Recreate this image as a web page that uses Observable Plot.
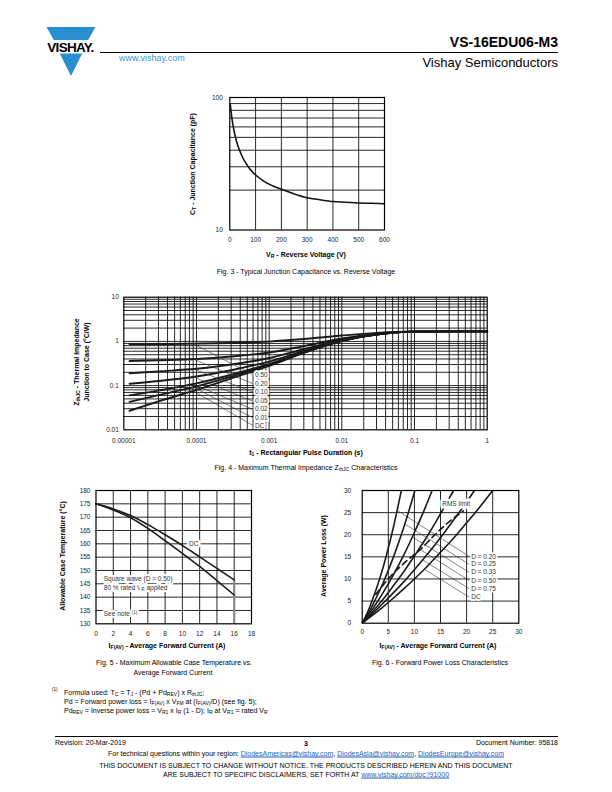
<!DOCTYPE html>
<html><head><meta charset="utf-8">
<script src="https://cdn.jsdelivr.net/npm/d3@7"></script>
<script src="https://cdn.jsdelivr.net/npm/@observablehq/plot@0.6"></script>
<style>
body{margin:0;background:#fff;}
#page{position:relative;width:612px;height:792px;font-family:"Liberation Sans",Arial,Helvetica,sans-serif;color:#000;overflow:hidden;background:#fff;}
.t{position:absolute;white-space:nowrap;line-height:1;}
sub{font-size:72%;vertical-align:-0.3em;line-height:0;}
sup{font-size:65%;vertical-align:0.45em;line-height:0;}
a{color:#1f5fbf;text-decoration:underline;}
</style></head><body><div id="page"></div>
<script>
// ================= DATA =================
// Fig. 3 - junction capacitance vs reverse voltage
const capVoltage = [2,5,10,20,30,45,60,80,100,130,160,200,250,300,350,400,450,500,550,600];
const capPf      = [88,78,66,52,44,37,32.5,28.5,26,23.5,21.8,20.3,18.7,17.5,16.9,16.4,16.2,16.0,15.9,15.8];
const capXTicks = [0,100,200,300,400,500,600];
const capYTicks = [10,100];
const capXGrid = [100,200,300,400,500];
const capYGrid = [20,30,40,50,60,70,80,90];

// Fig. 4 - thermal impedance
const pulseT    = [1.2e-5,3e-5,1e-4,3e-4,1e-3,3e-3,1e-2,3e-2,1e-1,1];
const zth050    = [0.86,0.87,0.89,0.92,0.99,1.13,1.36,1.56,1.68,1.70];
const zth020    = [0.36,0.375,0.40,0.455,0.56,0.78,1.16,1.48,1.67,1.70];
const zth010    = [0.19,0.21,0.24,0.30,0.42,0.665,1.09,1.45,1.66,1.70];
const zth005    = [0.11,0.127,0.161,0.223,0.35,0.61,1.05,1.43,1.66,1.70];
const zth002    = [0.06,0.077,0.112,0.176,0.31,0.57,1.03,1.43,1.66,1.70];
const zth001    = [0.043,0.061,0.096,0.16,0.294,0.56,1.03,1.42,1.66,1.70];
const zthSingle = [0.027,0.044,0.08,0.145,0.28,0.55,1.02,1.42,1.66,1.70];
const zthSeries = ["0.50","0.20","0.10","0.05","0.02","0.01","DC"];
const pulseTicks = [0.00001,0.0001,0.001,0.01,0.1,1];
const pulseTickLabels = ["0.00001","0.0001","0.001","0.01","0.1","1"];
const zthTicks = [0.01,0.1,1,10];
const zthTickLabels = ["0.01","0.1","1","10"];
const pulseDecades = [0.00001,0.0001,0.001,0.01,0.1];
const zthDecades = [0.01,0.1,1];
// leader annotations (data units)
const zthLeadT0 = 9e-5;
const zthLeadZ0 = [0.89,0.40,0.24,0.158,0.108,0.092,0.076];
const zthLabelT = 6e-4;
const zthLabelZ = [0.175,0.11,0.071,0.044,0.029,0.0187,0.0125];

// Fig. 5 - allowable case temperature
const ifAv   = [0,2,4,6,8,10,12,14,16];
const tcDC   = [175,173.1,170.6,167.2,163.4,159.4,155.1,150.8,146.5];
const tcSq50 = [175,172.7,169.8,165.8,161.2,156.4,151.5,146.2,140.8];
const tcXTicks = [0,2,4,6,8,10,12,14,16,18];
const tcYTicks = [130,135,140,145,150,155,160,165,170,175,180];

// Fig. 6 - forward power loss
const plI020 = [0,1,2,3,4,5,6,7,7.5];
const plP020 = [0,2.4,5.4,8.8,12.6,17,21.8,27.2,30];
const plI025 = [0,1,2,4,6,8,10.1];
const plP025 = [0,1.9,4.1,9.1,15.0,21.8,30];
const plI033 = [0,2,4,6,8,10,12,13.4];
const plP033 = [0,3.2,6.9,11.0,15.5,20.5,25.9,30];
const plI050 = [0,2,4,6,8,10,12,14,16,17.5];
const plP050 = [0,2.6,5.4,8.5,11.7,15.2,18.8,22.7,26.8,30];
const plI075 = [0,2,4,6,8,10,12,14,16,18,20,21.5];
const plP075 = [0,2.2,4.5,6.9,9.4,12.1,14.9,17.8,20.9,24.1,27.4,30];
const plIDC  = [0,2,4,6,8,10,12,14,16,18,20,22,25];
const plPDC  = [0,1.8,3.7,5.7,7.8,10.0,12.3,14.8,17.3,19.9,22.7,25.5,30];
const rmsI   = [2.6,5,8.7,10.9,13.5,16.3,19.4];
const rmsP   = [6.5,10,14.3,16.4,19.5,22.6,25.4];
const plSeries = ["D = 0.20","D = 0.25","D = 0.33","D = 0.50","D = 0.75","DC"];
const plTicks = [0,5,10,15,20,25,30];
const plLeadI0 = [6.7,8.2,9.6,10.9,11.6,11.9];
const plLeadP0 = [25.5,22.4,19.5,16.8,14.3,12.2];
const plLabelI = 20.5;
const plLabelP = [15.1,13.3,11.5,9.65,7.8,5.9];

// ================= HELPERS =================
const FONT = '"Liberation Sans", Arial, Helvetica, sans-serif';
const page = document.getElementById("page");
const SVGNS = "http://www.w3.org/2000/svg";

function txt(html, x, y, o = {}) {
  const d = document.createElement("div");
  d.className = "t";
  d.innerHTML = html;
  d.style.left = x + "px";
  d.style.top = y + "px";
  d.style.fontSize = (o.size || 7) + "px";
  if (o.bold) d.style.fontWeight = "bold";
  if (o.color) d.style.color = o.color;
  const a = o.anchor || "c";
  const tx = a === "l" ? "0" : a === "r" ? "-100%" : "-50%";
  d.style.transform = `translate(${tx},-50%)` + (o.rotate ? " rotate(-90deg)" : "");
  page.appendChild(d);
  return d;
}
function place(node, left, top) {
  node.style.position = "absolute";
  node.style.left = left + "px";
  node.style.top = top + "px";
  page.appendChild(node);
}
function rich(svg) {
  svg.querySelectorAll("text").forEach(t => {
    const s = t.textContent;
    if (!/[_^]\{/.test(s)) return;
    while (t.firstChild) t.removeChild(t.firstChild);
    const re = /([_^])\{([^}]*)\}/g;
    let last = 0, m, shift = 0;
    const add = (str, dy, small) => {
      const ts = document.createElementNS(SVGNS, "tspan");
      ts.textContent = str;
      if (dy) ts.setAttribute("dy", dy);
      if (small) ts.setAttribute("font-size", small);
      t.appendChild(ts);
    };
    while ((m = re.exec(s))) {
      if (m.index > last) add(s.slice(last, m.index), shift ? -shift : 0);
      else if (shift) add("", -shift);
      const d = m[1] === "_" ? 1.6 : -2.4;
      add(m[2], d, "4.6px");
      shift = d;
      last = re.lastIndex;
    }
    if (last < s.length) add(s.slice(last), shift ? -shift : 0);
  });
}
const baseStyle = {fontFamily: FONT, fontSize: "6.5px", color: "#222", background: "transparent", overflow: "visible"};
const gridStyle = {stroke: "#000", strokeWidth: 0.85};
const frameMark = () => Plot.frame({stroke: "#000", strokeWidth: 1.2});
const halo = {stroke: "white", strokeWidth: 3.5, paintOrder: "stroke", strokeLinejoin: "round"};

// ================= HEADER =================
const hdr = document.createElementNS(SVGNS, "svg");
hdr.setAttribute("width", 612); hdr.setAttribute("height", 90);
hdr.innerHTML = `
  <polygon points="46.5,27 95.5,27 88.2,40 53.8,40" fill="#2a8fd0"/>
  <polygon points="59.8,53.5 82.2,53.5 71,76" fill="#2a8fd0"/>
  <text x="70.5" y="51.5" text-anchor="middle" font-family='"Liberation Sans",Arial,sans-serif' font-weight="bold" font-size="13.5" letter-spacing="-0.7">VISHAY.</text>
  <line x1="100" y1="52.5" x2="558" y2="52.5" stroke="#000" stroke-width="1.1"/>`;
place(hdr, 0, 0);
txt("www.vishay.com", 119, 58, {size: 9, anchor: "l", color: "#3b95d6"});
txt("VS-16EDU06-M3", 558, 42, {size: 14, bold: true, anchor: "r"});
txt("Vishay Semiconductors", 558, 62, {size: 13, anchor: "r"});

// ================= FIG. 3 =================
const capRows = capVoltage.map((v, i) => ({v, c: capPf[i]}));
const fig3 = Plot.plot({
  width: 220, height: 160, marginLeft: 49.3, marginRight: 16, marginTop: 10, marginBottom: 17.5,
  style: baseStyle,
  x: {domain: [0, 600], ticks: capXTicks, tickSize: 0, tickPadding: 7, label: null, tickFormat: d => String(d)},
  y: {type: "log", domain: [10, 100], ticks: capYTicks, tickSize: 0, tickPadding: 7, label: null, tickFormat: d => String(d)},
  marks: [
    Plot.ruleY(capYGrid, gridStyle),
    Plot.ruleX(capXGrid, gridStyle),
    Plot.line(capRows, {x: "v", y: "c", stroke: "#111", strokeWidth: 1.6, curve: "monotone-x"}),
    frameMark()
  ]
});
place(fig3, 180, 87);
txt("C<sub>T</sub> - Junction Capacitance (pF)", 192, 164, {bold: true, rotate: true});
txt("V<sub>R</sub> - Reverse Voltage (V)", 306, 254, {bold: true});
txt("Fig. 3 - Typical Junction Capacitance vs. Reverse Voltage", 306, 271, {size: 7});

// ================= FIG. 4 =================
const zthValues = [zth050, zth020, zth010, zth005, zth002, zth001, zthSingle];
const zthRows = zthSeries.flatMap((name, k) => pulseT.map((t, i) => ({name, t, z: zthValues[k][i]})));
const mult = [1,2,3,4,5,6,7,8,9];
const pulseGrid = pulseDecades.flatMap(d => mult.map(k => k * d)).filter(v => v > 0.00001);
const zthGrid = zthDecades.flatMap(d => mult.map(k => k * d)).filter(v => v > 0.01);
const zthAnn = zthSeries.map((name, i) => ({name, t0: zthLeadT0, z0: zthLeadZ0[i], t1: zthLabelT, z1: zthLabelZ[i]}));
const fig4 = Plot.plot({
  width: 440, height: 160, marginLeft: 63.3, marginRight: 13.3, marginTop: 8.7, marginBottom: 18.7,
  style: baseStyle,
  x: {type: "log", domain: [0.00001, 1], ticks: pulseTicks, tickSize: 0, tickPadding: 9, label: null,
      tickFormat: d => pulseTickLabels[pulseTicks.indexOf(d)]},
  y: {type: "log", domain: [0.01, 10], ticks: zthTicks, tickSize: 0, tickPadding: 5, label: null,
      tickFormat: d => zthTickLabels[zthTicks.indexOf(d)]},
  marks: [
    Plot.ruleX(pulseGrid, gridStyle),
    Plot.ruleY(zthGrid, gridStyle),
    Plot.line(zthRows, {x: "t", y: "z", z: "name", stroke: "#1a1a1a", strokeWidth: 1.9, curve: "monotone-x"}),
    Plot.link(zthAnn, {x1: "t0", y1: "z0", x2: "t1", y2: "z1", stroke: "#333", strokeWidth: 0.6}),
    Plot.text(zthAnn, {x: "t1", y: "z1", text: "name", textAnchor: "start", dx: 2, fontSize: 6.5, fill: "#333", ...halo}),
    frameMark()
  ]
});
place(fig4, 60, 288);
txt("Z<sub>thJC</sub> - Thermal Impedance", 76, 362, {bold: true, rotate: true});
txt("Junction to Case (°C/W)", 85.5, 362, {bold: true, rotate: true});
txt("t<sub>1</sub> - Rectangular Pulse Duration (s)", 306, 452, {bold: true});
txt("Fig. 4 - Maximum Thermal Impedance Z<sub>thJC</sub> Characteristics", 306, 467, {size: 7});

// ================= FIG. 5 =================
const tcRows = [
  ...ifAv.map((x, i) => ({name: "DC", x, y: tcDC[i]})),
  ...ifAv.map((x, i) => ({name: "Square wave", x, y: tcSq50[i]}))
];
const tcDrop = [{x: ifAv[ifAv.length - 1], y1: tcYTicks[0], y2: tcDC[tcDC.length - 1]}];
const tcNotes = [
  {x: 0.9, y: 146.9, text: "Square wave (D = 0.50)"},
  {x: 0.9, y: 143.5, text: "80 % rated V_{R} applied"},
  {x: 0.9, y: 133.7, text: "See note ^{(1)}"}
];
const fig5 = Plot.plot({
  width: 200, height: 155, marginLeft: 35.5, marginRight: 9, marginTop: 8, marginBottom: 13.7,
  style: baseStyle,
  x: {domain: [0, 18], ticks: tcXTicks, tickSize: 0, tickPadding: 8, label: null, tickFormat: d => String(d)},
  y: {domain: [130, 180], ticks: tcYTicks, tickSize: 0, tickPadding: 5.5, label: null, tickFormat: d => String(d)},
  marks: [
    Plot.ruleX(tcXTicks.slice(1, -1), gridStyle),
    Plot.ruleY(tcYTicks.slice(1, -1), gridStyle),
    Plot.ruleX(tcDrop, {x: "x", y1: "y1", y2: "y2", stroke: "#8a8a8a", strokeWidth: 2.2}),
    Plot.line(tcRows, {x: "x", y: "y", z: "name", stroke: "#1a1a1a", strokeWidth: 1.6, curve: "monotone-x"}),
    Plot.text([{x: 11.3, y: 160, t: "DC"}], {x: "x", y: "y", text: "t", fontSize: 6.5, fill: "#333", ...halo, strokeWidth: 5}),
    Plot.text(tcNotes, {x: "x", y: "y", text: "text", textAnchor: "start", fontSize: 6.5, fill: "#333", ...halo, strokeWidth: 4}),
    frameMark()
  ]
});
rich(fig5);
place(fig5, 60, 482);
txt("Allowable Case Temperature (°C)", 62, 556, {bold: true, rotate: true});
txt("I<sub>F(AV)</sub> - Average Forward Current (A)", 167, 645, {bold: true});
txt("Fig. 5 - Maximum Allowable Case Temperature vs.", 174, 662, {size: 7});
txt("Average Forward Current", 173, 672, {size: 7});

// ================= FIG. 6 =================
const plIs = [plI020, plI025, plI033, plI050, plI075, plIDC];
const plPs = [plP020, plP025, plP033, plP050, plP075, plPDC];
const plRows = plSeries.flatMap((name, k) => plIs[k].map((x, i) => ({name, x, y: plPs[k][i]})));
const rmsRows = rmsI.map((x, i) => ({x, y: rmsP[i]}));
const plAnn = plSeries.map((name, i) => ({name, x0: plLeadI0[i], y0: plLeadP0[i], x1: plLabelI, y1: plLabelP[i]}));
const fig6 = Plot.plot({
  width: 200, height: 155, marginLeft: 31.7, marginRight: 11.7, marginTop: 8, marginBottom: 14.3,
  style: baseStyle,
  x: {domain: [0, 30], ticks: plTicks, tickSize: 0, tickPadding: 6.5, label: null, tickFormat: d => String(d)},
  y: {domain: [0, 30], ticks: plTicks, tickSize: 0, tickPadding: 11, label: null, tickFormat: d => String(d)},
  marks: [
    Plot.ruleX(plTicks.slice(1, -1), gridStyle),
    Plot.ruleY(plTicks.slice(1, -1), gridStyle),
    Plot.line(plRows, {x: "x", y: "y", z: "name", stroke: "#1a1a1a", strokeWidth: 1.6, curve: "monotone-x", clip: true}),
    Plot.line(rmsRows, {x: "x", y: "y", stroke: "#1a1a1a", strokeWidth: 1.6, strokeDasharray: "6,4", curve: "monotone-x"}),
    Plot.link(plAnn, {x1: "x0", y1: "y0", x2: "x1", y2: "y1", stroke: "#333", strokeWidth: 0.6}),
    Plot.text(plAnn, {x: "x1", y: "y1", text: "name", textAnchor: "start", dx: 2, fontSize: 6.5, fill: "#333", ...halo}),
    Plot.text([{x: 18, y: 27, t: "RMS limit"}], {x: "x", y: "y", text: "t", fontSize: 6.5, fill: "#333", ...halo, strokeWidth: 5}),
    frameMark()
  ]
});
place(fig6, 330, 482);
txt("Average Power Loss (W)", 323, 556, {bold: true, rotate: true});
txt("I<sub>F(AV)</sub> - Average Forward Current (A)", 438, 645, {bold: true});
txt("Fig. 6 - Forward Power Loss Characteristics", 440, 662, {size: 7});

// ================= NOTES / FOOTER =================
txt("<sup>(1)</sup>", 52, 691, {size: 7, anchor: "l"});
txt("Formula used: T<sub>C</sub> = T<sub>J</sub> - (Pd + Pd<sub>REV</sub>) x R<sub>thJC</sub>;", 64, 692, {size: 7, anchor: "l"});
txt("Pd = Forward power loss = I<sub>F(AV)</sub> x V<sub>FM</sub> at (I<sub>F(AV)</sub>/D) (see fig. 5);", 64, 701, {size: 7, anchor: "l"});
txt("Pd<sub>REV</sub> = Inverse power loss = V<sub>R1</sub> x I<sub>R</sub> (1 - D); I<sub>R</sub> at V<sub>R1</sub> = rated V<sub>R</sub>", 64, 710, {size: 7, anchor: "l"});

const rule = document.createElement("div");
rule.style.cssText = "position:absolute;left:55px;top:736px;width:503px;height:0;border-top:1px solid #000;";
page.appendChild(rule);
txt("Revision: 20-Mar-2019", 55, 742, {size: 7, anchor: "l"});
txt("3", 306, 743, {size: 7, bold: true});
txt("Document Number: 95818", 558, 742, {size: 7, anchor: "r"});
txt('For technical questions within your region: <a>DiodesAmericas@vishay.com</a>, <a>DiodesAsia@vishay.com</a>, <a>DiodesEurope@vishay.com</a>', 306, 753, {size: 7});
txt("THIS DOCUMENT IS SUBJECT TO CHANGE WITHOUT NOTICE. THE PRODUCTS DESCRIBED HEREIN AND THIS DOCUMENT", 306, 765, {size: 7});
txt('ARE SUBJECT TO SPECIFIC DISCLAIMERS, SET FORTH AT <a>www.vishay.com/doc?91000</a>', 306, 774, {size: 7});
</script>
</body></html>
